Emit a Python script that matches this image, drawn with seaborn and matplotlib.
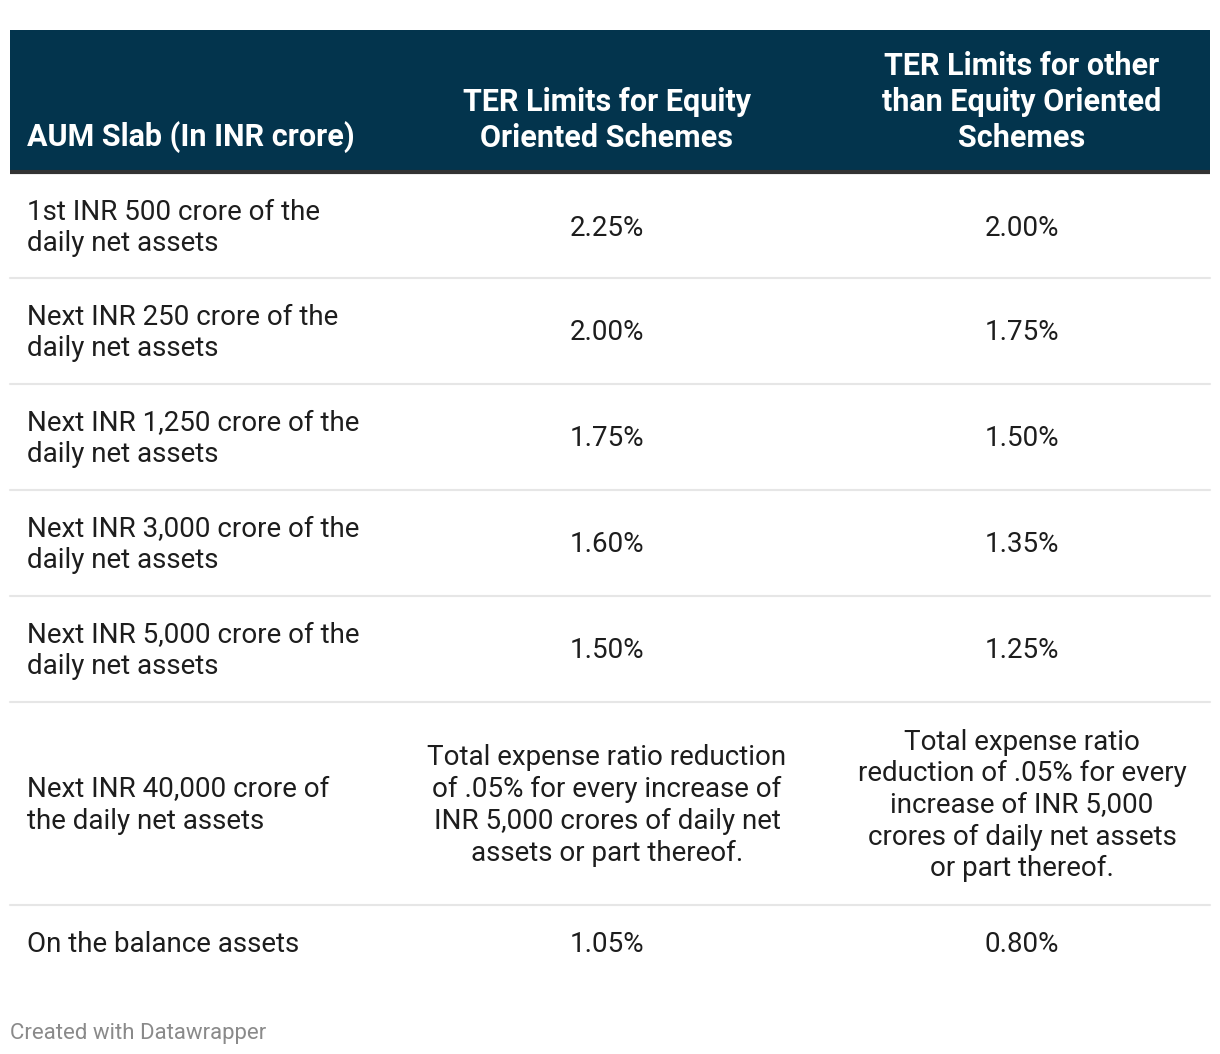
import matplotlib
matplotlib.use("Agg")
import matplotlib.pyplot as plt
import seaborn as sns

# table content
headers = [
    "AUM Slab (In INR crore)",
    "TER Limits for Equity\nOriented Schemes",
    "TER Limits for other\nthan Equity Oriented\nSchemes",
]
slabs = [
    "1st INR 500 crore of the\ndaily net assets",
    "Next INR 250 crore of the\ndaily net assets",
    "Next INR 1,250 crore of the\ndaily net assets",
    "Next INR 3,000 crore of the\ndaily net assets",
    "Next INR 5,000 crore of the\ndaily net assets",
    "Next INR 40,000 crore of\nthe daily net assets",
    "On the balance assets",
]
equity_ter = [
    "2.25%", "2.00%", "1.75%", "1.60%", "1.50%",
    "Total expense ratio reduction\nof .05% for every increase of\nINR 5,000 crores of daily net\nassets or part thereof.",
    "1.05%",
]
other_ter = [
    "2.00%", "1.75%", "1.50%", "1.35%", "1.25%",
    "Total expense ratio\nreduction of .05% for every\nincrease of INR 5,000\ncrores of daily net assets\nor part thereof.",
    "0.80%",
]

sns.set_theme(style="white")
plt.rcParams["font.family"] = ["Roboto", "DejaVu Sans"]

W, H = 1220, 1054
fig = plt.figure(figsize=(W / 100, H / 100), dpi=100)
ax = fig.add_axes([0, 0, 1, 1])
ax.set_xlim(0, W)
ax.set_ylim(H, 0)
ax.axis("off")

left, right = 10, 1210
header_top, header_bot = 30, 170
row_bounds = [174, 278, 384, 490, 596, 702, 905, 980]
col_x = [27, 607, 1022]

navy = "#03344d"
text_col = "#1d1d1d"
fs = 20
fs_head = 22

# header
ax.add_patch(plt.Rectangle((left, header_top), right - left, header_bot - header_top,
                           color=navy, lw=0))
ax.plot([left, right], [172, 172], color="#333333", lw=3, solid_capstyle="butt")
for i, h in enumerate(headers):
    ax.text(col_x[i], 153, h, color="white", fontsize=fs_head, fontweight="bold",
            ha="left" if i == 0 else "center", va="bottom",
            multialignment="left" if i == 0 else "center", linespacing=1.25)

# body rows
for r in range(len(slabs)):
    y0, y1 = row_bounds[r], row_bounds[r + 1]
    yc = (y0 + y1) / 2 + 2
    if r < len(slabs) - 1:
        ax.plot([left, right], [y1, y1], color="#e6e6e6", lw=1.5)
    if r == len(slabs) - 1:
        yc = 945
    ax.text(col_x[0], yc, slabs[r], color=text_col, fontsize=fs, ha="left",
            va="center", linespacing=1.22)
    ax.text(col_x[1], yc, equity_ter[r], color=text_col, fontsize=fs, ha="center",
            va="center", multialignment="center", linespacing=1.22)
    ax.text(col_x[2], yc, other_ter[r], color=text_col, fontsize=fs, ha="center",
            va="center", multialignment="center", linespacing=1.22)

ax.text(10, 1033, "Created with Datawrapper", color="#8a8a8a", fontsize=16,
        ha="left", va="center")

fig.savefig("out.png", dpi=100, facecolor="white")
